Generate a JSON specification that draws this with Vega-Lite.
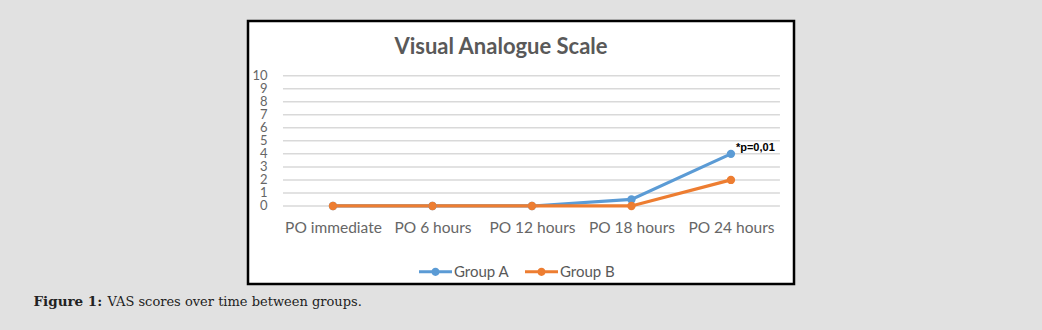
{
  "$schema": "https://vega.github.io/schema/vega-lite/v6.json",
  "width": 546,
  "height": 263,
  "autosize": {"type": "none"},
  "padding": {"left": 248, "top": 21, "right": 248, "bottom": 46},
  "background": "#e1e1e1",
  "title": {
    "text": "Visual Analogue Scale",
    "orient": "top",
    "anchor": "middle",
    "baseline": "alphabetic",
    "offset": -55,
    "dx": -20,
    "font": "Lato",
    "fontSize": 22,
    "fontWeight": "bold",
    "color": "#595959"
  },
  "config": {
    "view": {"fill": "white", "stroke": "black", "strokeWidth": 2.5}
  },
  "datasets": {
    "vas": [
      {"time": "PO immediate", "group": "Group A", "score": 0},
      {"time": "PO 6 hours", "group": "Group A", "score": 0},
      {"time": "PO 12 hours", "group": "Group A", "score": 0},
      {"time": "PO 18 hours", "group": "Group A", "score": 0.5},
      {"time": "PO 24 hours", "group": "Group A", "score": 4},
      {"time": "PO immediate", "group": "Group B", "score": 0},
      {"time": "PO 6 hours", "group": "Group B", "score": 0},
      {"time": "PO 12 hours", "group": "Group B", "score": 0},
      {"time": "PO 18 hours", "group": "Group B", "score": 0},
      {"time": "PO 24 hours", "group": "Group B", "score": 2}
    ],
    "grid": [
      {"v": 0}, {"v": 1}, {"v": 2}, {"v": 3}, {"v": 4}, {"v": 5},
      {"v": 6}, {"v": 7}, {"v": 8}, {"v": 9}, {"v": 10}
    ],
    "note": [
      {"time": "PO 24 hours", "score": 4, "label": "*p=0,01"}
    ]
  },
  "encoding": {
    "x": {
      "field": "time",
      "type": "nominal",
      "scale": {
        "type": "point",
        "domain": ["PO immediate", "PO 6 hours", "PO 12 hours", "PO 18 hours", "PO 24 hours"],
        "padding": 0.744,
        "align": 0.574
      },
      "axis": {
        "orient": "bottom",
        "offset": -64,
        "labelAngle": 0,
        "labelOverlap": false,
        "domain": false,
        "ticks": false,
        "grid": false,
        "labelPadding": 0,
        "labelFont": "Lato",
        "labelFontSize": 15.5,
        "labelColor": "#666666",
        "title": "VAS scores over time between groups.",
        "titleX": -141,
        "titleY": 85,
        "titleAlign": "left",
        "titleAnchor": null,
        "titleBaseline": "alphabetic",
        "titleFont": "DejaVu Serif",
        "titleFontSize": 13,
        "titleFontWeight": "normal",
        "titleColor": "#222222"
      }
    },
    "y": {
      "field": "score",
      "type": "quantitative",
      "scale": {"domain": [-5.99, 14.2], "nice": false, "zero": false},
      "axis": {
        "orient": "left",
        "offset": -19,
        "values": [0, 1, 2, 3, 4, 5, 6, 7, 8, 9, 10],
        "labelOverlap": false,
        "domain": false,
        "ticks": false,
        "grid": false,
        "labelPadding": 0,
        "labelFont": "Lato",
        "labelFontSize": 13,
        "labelColor": "#666666",
        "title": "Figure 1:",
        "titleAngle": 0,
        "titleX": -234,
        "titleY": 284,
        "titleAlign": "left",
        "titleBaseline": "alphabetic",
        "titleFont": "DejaVu Serif",
        "titleFontSize": 13.5,
        "titleFontWeight": "bold",
        "titleColor": "#222222"
      }
    }
  },
  "layer": [
    {
      "data": {"name": "grid"},
      "mark": {"type": "rule", "color": "#d9d9d9", "strokeWidth": 1.5, "xOffset": -50, "x2Offset": 49},
      "encoding": {
        "x": {
          "datum": "PO immediate",
          "type": "nominal",
          "scale": {
            "type": "point",
            "domain": ["PO immediate", "PO 6 hours", "PO 12 hours", "PO 18 hours", "PO 24 hours"],
            "padding": 0.744,
            "align": 0.574
          },
          "axis": {
            "orient": "bottom",
            "offset": -64,
            "labelAngle": 0,
            "labelOverlap": false,
            "domain": false,
            "ticks": false,
            "grid": false,
            "labelPadding": 0,
            "labelFont": "Lato",
            "labelFontSize": 15.5,
            "labelColor": "#666666",
            "title": "VAS scores over time between groups.",
            "titleX": -141,
            "titleY": 85,
            "titleAlign": "left",
            "titleAnchor": null,
            "titleBaseline": "alphabetic",
            "titleFont": "DejaVu Serif",
            "titleFontSize": 13,
            "titleFontWeight": "normal",
            "titleColor": "#222222"
          }
        },
        "x2": {"datum": "PO 24 hours"},
        "y": {
          "field": "v",
          "type": "quantitative",
          "scale": {"domain": [-5.99, 14.2], "nice": false, "zero": false},
          "axis": {
            "orient": "left",
            "offset": -19,
            "values": [0, 1, 2, 3, 4, 5, 6, 7, 8, 9, 10],
            "labelOverlap": false,
            "domain": false,
            "ticks": false,
            "grid": false,
            "labelPadding": 0,
            "labelFont": "Lato",
            "labelFontSize": 13,
            "labelColor": "#666666",
            "title": "Figure 1:",
            "titleAngle": 0,
            "titleX": -234,
            "titleY": 284,
            "titleAlign": "left",
            "titleBaseline": "alphabetic",
            "titleFont": "DejaVu Serif",
            "titleFontSize": 13.5,
            "titleFontWeight": "bold",
            "titleColor": "#222222"
          }
        }
      }
    },
    {
      "data": {"name": "vas"},
      "mark": {"type": "line", "strokeWidth": 3.2},
      "encoding": {
        "color": {
          "field": "group",
          "type": "nominal",
          "scale": {"domain": ["Group A", "Group B"], "range": ["#5b9bd5", "#ed7d31"]}
        }
      }
    },
    {
      "data": {"name": "vas"},
      "mark": {"type": "point", "filled": true, "size": 70, "opacity": 1},
      "encoding": {
        "color": {
          "field": "group",
          "type": "nominal",
          "scale": {"domain": ["Group A", "Group B"], "range": ["#5b9bd5", "#ed7d31"]},
          "legend": {
            "orient": "none",
            "legendX": 171,
            "legendY": 234,
            "direction": "horizontal",
            "title": null,
            "symbolType": "M-1,-0.09L1,-0.09L1,0.09L-1,0.09Z M0.25,0A0.25,0.25 0 1,1 -0.25,0A0.25,0.25 0 1,1 0.25,0Z",
            "symbolSize": 1089,
            "symbolStrokeWidth": 0,
            "symbolOpacity": 1,
            "labelFont": "Lato",
            "labelFontSize": 15,
            "labelColor": "#595959",
            "labelOffset": 2,
            "columnPadding": 15
          }
        }
      }
    },
    {
      "data": {"name": "note"},
      "mark": {"type": "text", "align": "left", "baseline": "alphabetic", "dx": 5, "dy": -3, "font": "Liberation Sans", "fontSize": 11, "fontWeight": "bold", "color": "black"},
      "encoding": {
        "text": {"field": "label"}
      }
    }
  ]
}
